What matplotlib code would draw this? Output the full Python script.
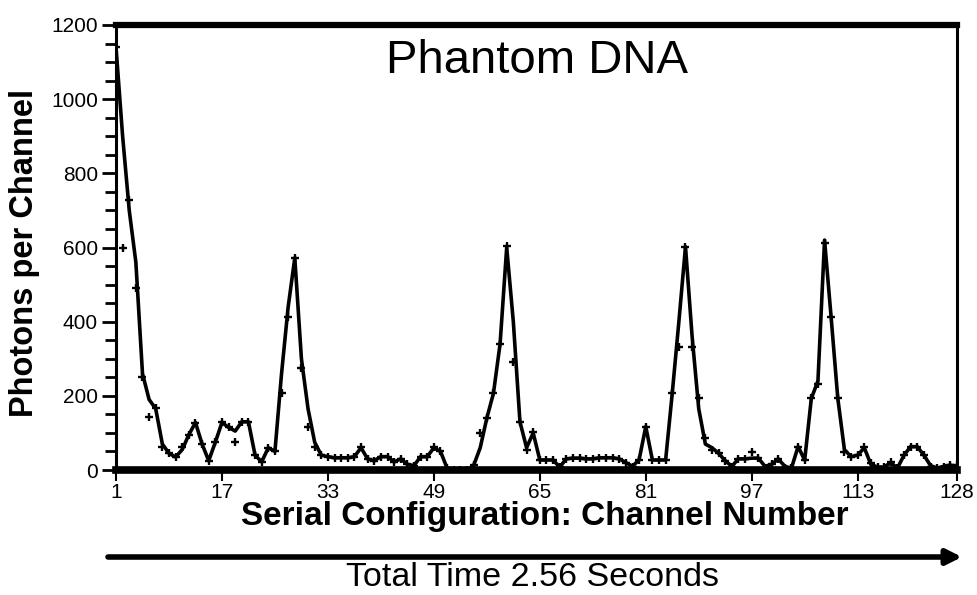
import numpy as np
import matplotlib.pyplot as plt
from matplotlib.ticker import MultipleLocator

plt.rcParams['font.family'] = ['Liberation Sans', 'DejaVu Sans']

# channel numbers and photon counts
channels = np.arange(1, 129)

# smoothed trace (the thick line)
trace_counts = [
    1140, 900, 700, 560, 260, 190, 165, 70, 45, 35,
    55, 95, 128, 70, 25, 75, 128, 115, 105, 130,
    130, 40, 22, 60, 50, 260, 440, 572, 300, 165,
    75, 40, 36, 33, 33, 33, 36, 60, 30, 25,
    36, 36, 22, 30, 15, 12, 36, 36, 60, 50,
    5, 0, 0, 0, 12, 60, 140, 207, 340, 600,
    400, 130, 60, 100, 27, 27, 27, 8, 30, 32,
    32, 30, 30, 33, 33, 33, 30, 20, 10, 28,
    117, 27, 27, 27, 207, 400, 602, 360, 165, 70,
    60, 45, 25, 10, 30, 30, 32, 32, 10, 15,
    30, 10, 5, 63, 27, 193, 240, 620, 410, 193,
    55, 36, 40, 60, 15, 8, 8, 20, 5, 40,
    63, 63, 40, 12, 5, 10, 13, 10,
]

# measured points (the small + marks)
point_counts = [
    1140, 600, 728, 491, 251, 143, 167, 63, 45, 35,
    62, 95, 127, 70, 25, 75, 130, 115, 76, 130,
    130, 40, 22, 60, 50, 207, 413, 572, 274, 117,
    63, 40, 36, 33, 33, 33, 36, 63, 30, 25,
    36, 36, 22, 30, 15, 12, 36, 36, 63, 50,
    5, 0, 0, 0, 13, 100, 140, 207, 341, 604,
    292, 130, 54, 103, 27, 27, 27, 8, 30, 32,
    32, 30, 30, 33, 33, 33, 30, 20, 9, 28,
    117, 27, 27, 27, 207, 332, 602, 332, 193, 85,
    54, 45, 25, 9, 30, 30, 49, 32, 5, 15,
    31, 5, 5, 63, 27, 193, 233, 611, 413, 193,
    49, 36, 40, 63, 18, 9, 9, 22, 5, 40,
    63, 63, 40, 9, 5, 9, 13, 13,
]

x_ticks = [1, 17, 33, 49, 65, 81, 97, 113, 128]
y_ticks = [0, 200, 400, 600, 800, 1000, 1200]

fig = plt.figure(figsize=(9.77, 5.95), dpi=100)
ax = fig.add_axes([116 / 977, 1 - 470 / 595, (957 - 116) / 977, (470 - 25) / 595])

ax.plot(channels, trace_counts, color='black', linewidth=2.6, zorder=3)
ax.plot(channels, point_counts, linestyle='none', marker='+', color='black',
        markersize=6, markeredgewidth=1.7, zorder=4)

ax.set_xlim(1, 128)
ax.set_ylim(0, 1200)

ax.set_xticks(x_ticks)
ax.set_yticks(y_ticks)
ax.yaxis.set_minor_locator(MultipleLocator(50))
ax.tick_params(axis='x', direction='out', length=8, width=1.5, labelsize=15, pad=1)
ax.tick_params(axis='y', which='major', direction='out', length=10, width=2, labelsize=15, pad=3)
ax.tick_params(axis='y', which='minor', direction='out', length=8, width=2)
for lab in ax.get_xticklabels() + ax.get_yticklabels():
    lab.set_fontfamily(['Liberation Sans Narrow', 'Liberation Sans', 'DejaVu Sans'])

ax.spines['top'].set_linewidth(4.5)
ax.spines['bottom'].set_linewidth(5.5)
ax.spines['left'].set_linewidth(2.2)
ax.spines['right'].set_linewidth(2.2)
for s in ax.spines.values():
    s.set_zorder(5)

ax.text(0.5, 0.92, 'Phantom DNA', transform=ax.transAxes, ha='center', va='center',
        fontsize=34)

fig.text(25 / 977, 1 - 253 / 595, 'Photons per Channel', rotation=90, ha='center',
         va='center', fontsize=23.5, fontweight='bold')
fig.text(545 / 977, 1 - 517 / 595, 'Serial Configuration: Channel Number', ha='center',
         va='center', fontsize=24, fontweight='bold')

# time arrow under the axis
ax.annotate('', xy=(962 / 977, 1 - 557 / 595), xytext=(108 / 977, 1 - 557 / 595),
            xycoords='figure fraction', textcoords='figure fraction',
            arrowprops=dict(arrowstyle='-|>,head_length=0.9,head_width=0.45',
                            color='black', linewidth=4, shrinkA=0, shrinkB=0))

fig.text(532 / 977, 1 - 578 / 595, 'Total Time 2.56 Seconds', ha='center', va='center',
         fontsize=24.5)

plt.savefig('out.png', dpi=100)
